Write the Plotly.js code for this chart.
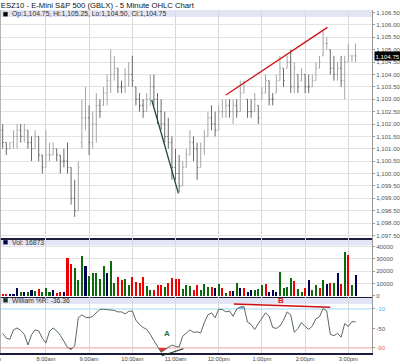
<!DOCTYPE html>
<html><head><meta charset="utf-8">
<script src="https://cdn.plot.ly/plotly-3.0.1.min.js"></script>
<style>html,body{margin:0;padding:0;background:#fff;overflow:hidden}#chart{width:400px;height:364px}</style>
</head><body><div id="chart"></div>
<script>
const chartTitle = "ESZ10 - E-Mini S&P 500 (GBLX) - 5 Minute OHLC Chart";
const times = [
"7:00","7:05","7:10","7:15","7:20","7:25","7:30","7:35","7:40","7:45","7:50","7:55",
"8:00","8:05","8:10","8:15","8:20","8:25","8:30","8:35","8:40","8:45","8:50","8:55",
"9:00","9:05","9:10","9:15","9:20","9:25","9:30","9:35","9:40","9:45","9:50","9:55",
"10:00","10:05","10:10","10:15","10:20","10:25","10:30","10:35","10:40","10:45","10:50","10:55",
"11:00","11:05","11:10","11:15","11:20","11:25","11:30","11:35","11:40","11:45","11:50","11:55",
"12:00","12:05","12:10","12:15","12:20","12:25","12:30","12:35","12:40","12:45","12:50","12:55",
"13:00","13:05","13:10","13:15","13:20","13:25","13:30","13:35","13:40","13:45","13:50","13:55",
"14:00","14:05","14:10","14:15","14:20","14:25","14:30","14:35","14:40","14:45","14:50","14:55",
"15:00","15:05","15:10"];
const opens = [1101.75,1101.25,1101.0,1101.25,1101.5,1101.75,1101.5,1101.75,1101.25,1101.0,1101.5,1100.75,
1100.25,1100.75,1100.75,1101.0,1100.75,1100.5,1100.5,1100.25,1099.0,1098.5,1101.25,1102.25,
1102.25,1101.25,1102.0,1102.75,1102.75,1103.25,1103.75,1104.0,1104.25,1103.5,1103.5,1104.0,
1104.0,1103.5,1103.0,1102.75,1102.5,1103.0,1103.5,1103.0,1102.5,1102.0,1101.5,1101.25,
1100.25,1100.0,1099.5,1100.25,1100.75,1101.25,1101.0,1100.25,1101.0,1101.5,1102.25,1102.0,
1101.75,1102.5,1102.5,1102.75,1102.5,1102.75,1102.5,1103.25,1103.0,1102.5,1102.5,1102.75,
1103.0,1103.25,1103.75,1103.0,1103.25,1103.75,1104.25,1104.25,1104.5,1103.5,1104.0,1103.75,
1104.0,1103.5,1103.5,1103.75,1104.25,1104.75,1105.25,1105.0,1104.25,1104.0,1104.25,1103.75,
1104.5,1104.75,1104.75];
const highs = [1102.0,1101.25,1101.25,1101.75,1102.0,1102.0,1102.0,1101.75,1101.5,1101.75,1101.5,1100.75,
1101.75,1101.25,1101.25,1101.0,1100.75,1101.0,1101.25,1100.25,1099.75,1100.5,1103.0,1103.5,
1102.75,1102.5,1103.25,1103.0,1103.5,1104.0,1105.0,1104.75,1104.25,1103.75,1104.25,1104.5,
1104.75,1103.5,1103.25,1103.0,1103.25,1104.0,1104.0,1103.25,1103.0,1102.5,1102.25,1101.5,
1101.0,1100.75,1100.5,1101.0,1101.75,1101.5,1101.25,1101.25,1101.75,1102.5,1102.75,1102.5,
1102.75,1103.0,1103.0,1103.0,1103.0,1103.0,1103.75,1103.75,1103.0,1103.0,1103.25,1102.75,
1103.5,1104.0,1103.75,1103.25,1104.0,1104.75,1104.25,1104.75,1105.0,1104.5,1104.0,1104.25,
1104.0,1104.0,1104.0,1104.5,1104.75,1105.75,1105.5,1105.0,1104.75,1104.5,1104.75,1104.75,
1105.25,1104.75,1105.25];
const lows = [1101.0,1100.75,1101.0,1101.0,1101.0,1101.25,1101.25,1101.0,1100.5,1101.0,1100.5,1100.0,
1100.25,1100.5,1100.75,1100.5,1100.0,1100.25,1100.0,1098.75,1098.25,1098.5,1101.0,1101.75,
1100.75,1101.0,1101.25,1102.25,1102.75,1102.75,1103.25,1103.75,1103.25,1103.25,1103.25,1103.5,
1103.5,1102.75,1102.5,1102.25,1102.5,1102.75,1102.75,1102.0,1101.75,1101.25,1101.0,1099.75,
1099.75,1099.25,1099.5,1100.25,1100.75,1100.5,1099.75,1100.25,1100.75,1101.5,1101.75,1101.5,
1101.75,1102.25,1102.25,1102.25,1102.0,1102.25,1102.5,1103.25,1102.25,1102.25,1102.5,1102.0,
1103.0,1103.25,1102.75,1102.75,1103.25,1103.75,1103.5,1104.25,1103.25,1103.25,1103.25,1103.75,
1103.25,1103.25,1103.5,1103.75,1104.25,1104.75,1105.0,1104.0,1103.75,1103.75,1103.5,1103.0,
1104.5,1104.5,1104.5];
const closes = [1101.25,1101.0,1101.25,1101.5,1101.75,1101.5,1101.75,1101.25,1101.0,1101.5,1100.75,1100.25,
1100.75,1100.75,1101.0,1100.75,1100.5,1100.5,1100.25,1099.0,1098.5,1100.25,1102.25,1102.25,
1101.25,1102.0,1102.75,1102.5,1103.25,1103.75,1104.0,1104.25,1103.5,1103.5,1104.0,1104.0,
1103.75,1103.0,1102.75,1102.5,1103.0,1103.5,1103.0,1102.5,1102.0,1101.5,1101.25,1100.25,
1100.0,1099.5,1100.25,1100.75,1101.25,1101.0,1100.25,1101.0,1101.5,1102.25,1102.0,1101.75,
1102.5,1102.5,1102.75,1102.5,1102.75,1102.5,1103.25,1103.5,1102.5,1102.5,1103.0,1102.25,
1103.25,1103.75,1103.0,1103.0,1103.75,1104.25,1103.75,1104.5,1103.5,1104.25,1103.5,1104.0,
1103.5,1103.5,1103.75,1104.25,1104.5,1105.25,1105.25,1104.25,1104.0,1104.25,1103.75,1104.5,
1104.75,1104.75,1104.75];
const volumes = [1500,1200,1500,1000,6000,3300,2700,3300,4900,4100,5400,3300,
6000,2700,4900,2500,2700,3300,31000,25600,22300,12800,32700,24500,
16300,18300,18300,14000,24500,18300,28300,10000,15200,12800,13600,8700,
15200,11400,10000,15500,8200,4900,4900,8700,8700,7300,10000,14700,
14000,13300,5700,8700,8200,4900,8700,4650,9280,6830,7380,6560,
9280,6560,2480,3840,3840,10100,6560,6560,3290,4380,4650,5470,
8730,9280,2750,4650,3000,19600,6560,7380,14180,12000,5470,2750,
6560,12820,4650,8730,6000,12820,9280,10640,10640,18800,9280,35900,
33200,8730,16873];
const volDir = ["d","d","f","f","f","u","f","u","f","u","d","u",
"u","u","f","d","d","f","d","d","u","u","u","f",
"u","u","u","u","u","f","u","u","d","d","u","u",
"d","d","d","d","u","u","d","d","d","u","d","d",
"d","d","u","u","u","d","d","u","u","u","d","f",
"u","d","u","d","f","u","f","d","f","f","u","u",
"u","d","f","f","f","u","u","u","u","d","u","u",
"d","f","u","u","d","u","f","d","u","f","d","u",
"d","u","f"];
const willR = [-60,-70,-72,-53,-49,-54,-62,-84,-63,-53,-55,-70,
-80,-56,-49,-55,-64,-76,-89,-93,-86,-28,-22,-27,
-28,-25,-17,-11,-10.5,-11,-11.5,-13,-16,-16,-20,-15,
-14,-33,-42,-48,-52,-62,-75,-86,-99,-94,-89,-84,
-87,-88,-66,-60,-53,-58,-57,-59,-38,-22,-18,-28,
-10.5,-11,-16,-14,-25,-10,-6,-5,-37,-42,-52,-40,
-28,-18,-25,-48,-50,-45,-33,-16,-22,-58,-50,-38,
-46,-52,-45,-30,-26,-9,-14,-62,-65,-60,-68,-40,
-46,-36,-36.36];
const hourTimes = ["8:00","9:00","10:00","11:00","12:00","13:00","14:00","15:00"];
const hourLabels = ["8:00am","9:00am","10:00am","11:00am","12:00pm","1:00pm","2:00pm","3:00pm"];
const edgeLabel = {time:"6:45", text:"6:45am"};
const priceTicks = [1097.5,1098,1098.5,1099,1099.5,1100,1100.5,1101,1101.5,1102,1102.5,1103,1103.5,1104,1104.5,1105,1105.5,1106,1106.5];
const volTicks = [0,10000,20000,30000,40000];
const willTicks = [-10,-50,-90];
const willLevels = {upper:-10, lower:-90};
const trendUp = {t:["12:10","14:31"], p:[1103.17,1105.9]};
const trendDown = {t:["10:27","11:04"], p:[1102.97,1099.2]};
const willLineA = {t:["10:41","11:11"], w:[-106,-91.6]};
const willLineB = {t:["12:21","14:35"], w:[0.2,-6.6]};
const labelA = {t:"10:48", w:-60, text:"A"};
const labelB = {t:"13:27", w:7.4, text:"B"};

function toMin(s){const a=s.split(':').map(Number);return a[0]*60+a[1];}
function fmt(v){return v.toLocaleString('en-US',{minimumFractionDigits:2,maximumFractionDigits:2});}
const tx = times.map(toMin);
const N = times.length;
const XR = [416.25, 932.9];
const PW = 372, PT = 10, PB = 353;
const px = v => v / PW;
const py = v => (PB - v) / (PB - PT);
const D3 = [0, py(296.5)], D2 = [py(296.5), py(238)], D1 = [py(238), 1];
const YR1 = [1097.4, 1106.6], YR2 = [-650, 47100], YR3 = [-100.4, 15.6];

const dirColor = {u:'#0b6b0b', d:'#ee0000', f:'#000055'};

function regions(xs, ys, thr, inside){
  const polys=[]; let cur=null;
  for(let i=0;i<xs.length;i++){
    const ins = inside(ys[i]);
    if(ins){
      if(!cur){
        cur={x:[],y:[]};
        if(i>0){const t=(thr-ys[i-1])/(ys[i]-ys[i-1]);cur.x.push(xs[i-1]+t*(xs[i]-xs[i-1]));}
        else cur.x.push(xs[i]);
        cur.y.push(thr);
      }
      cur.x.push(xs[i]);cur.y.push(ys[i]);
    } else if(cur){
      const t=(thr-ys[i-1])/(ys[i]-ys[i-1]);
      cur.x.push(xs[i-1]+t*(xs[i]-xs[i-1]));cur.y.push(thr);
      polys.push(cur);cur=null;
    }
  }
  if(cur){cur.x.push(xs[xs.length-1]);cur.y.push(thr);polys.push(cur);}
  return polys;
}

const traces = [];
traces.push({type:'ohlc', x:tx, open:opens, high:highs, low:lows, close:closes,
  xaxis:'x', yaxis:'y', tickwidth:0.32, hoverinfo:'skip',
  increasing:{line:{color:'#a6a6a6', width:1}}, decreasing:{line:{color:'#6a6a6a', width:1}}});
traces.push({type:'bar', x:tx, y:volumes, width:2.8, xaxis:'x2', yaxis:'y2', hoverinfo:'skip',
  marker:{color:volDir.map(d=>dirColor[d]), line:{width:0}}});
regions(tx, willR, willLevels.lower, v=>v<willLevels.lower).forEach(p=>traces.push({type:'scatter',mode:'lines',x:p.x,y:p.y,fill:'toself',fillcolor:'#f03030',line:{width:0,color:'rgba(0,0,0,0)'},xaxis:'x3',yaxis:'y3',hoverinfo:'skip'}));
regions(tx, willR, willLevels.upper, v=>v>willLevels.upper).forEach(p=>traces.push({type:'scatter',mode:'lines',x:p.x,y:p.y,fill:'toself',fillcolor:'#7cc4ec',line:{width:0,color:'rgba(0,0,0,0)'},xaxis:'x3',yaxis:'y3',hoverinfo:'skip'}));
traces.push({type:'scatter', mode:'lines', x:tx, y:willR, xaxis:'x3', yaxis:'y3', hoverinfo:'skip',
  line:{color:'#5a6a5a', width:1}});

const hourMin = hourTimes.map(toMin);
const xBase = {range:XR, tickvals:hourMin, showgrid:true, gridcolor:'#d8d8d8', gridwidth:1,
  showline:true, linecolor:'#1c1c3c', linewidth:1.5, zeroline:false, fixedrange:true, ticks:'',
  showticklabels:false, rangeslider:{visible:false}};
const yBase = {side:'right', showline:true, linecolor:'#999', linewidth:1, ticks:'outside', ticklen:2,
  tickcolor:'#999', zeroline:false, fixedrange:true, tickfont:{size:6.1, color:'#555'}, showgrid:true, gridcolor:'#e3e3e3'};

const last = N-1;
const bandFill = '#e4e4f7';
const shapes = [
  {type:'rect', xref:'paper', yref:'paper', x0:0, x1:1, y0:py(17), y1:py(10), fillcolor:bandFill, line:{width:0}, layer:'below'},
  {type:'rect', xref:'paper', yref:'paper', x0:0, x1:1, y0:py(245.5), y1:py(238.7), fillcolor:bandFill, line:{width:0}, layer:'below'},
  {type:'rect', xref:'paper', yref:'paper', x0:0, x1:1, y0:py(304), y1:py(297), fillcolor:bandFill, line:{width:0}, layer:'below'},
  {type:'rect', xref:'paper', yref:'paper', x0:px(3.5), x1:px(7.5), y0:py(16.2), y1:py(12.2), fillcolor:'#000', line:{width:0.5,color:'#333'}},
  {type:'rect', xref:'paper', yref:'paper', x0:px(3.5), x1:px(7.5), y0:py(244.2), y1:py(240.2), fillcolor:'#000055', line:{width:0.5,color:'#333'}},
  {type:'rect', xref:'paper', yref:'paper', x0:px(3.5), x1:px(7.5), y0:py(302.2), y1:py(298.2), fillcolor:'#0a3a0a', line:{width:0.5,color:'#333'}},
  {type:'line', xref:'paper', yref:'paper', x0:0.001, x1:0.001, y0:0, y1:1, line:{color:'#aaa', width:1}},
  {type:'line', xref:'paper', yref:'y3', x0:0, x1:1, y0:willLevels.upper, y1:willLevels.upper, line:{color:'#a6d6f2', width:1}, layer:'below'},
  {type:'line', xref:'paper', yref:'y3', x0:0, x1:1, y0:willLevels.lower, y1:willLevels.lower, line:{color:'#f0a0a0', width:1}, layer:'below'},
  {type:'line', xref:'x', yref:'y', x0:toMin(trendUp.t[0]), x1:toMin(trendUp.t[1]), y0:trendUp.p[0], y1:trendUp.p[1], line:{color:'#cc1111', width:1.3}},
  {type:'line', xref:'x', yref:'y', x0:toMin(trendDown.t[0]), x1:toMin(trendDown.t[1]), y0:trendDown.p[0], y1:trendDown.p[1], line:{color:'#1f4a33', width:1.3}},
  {type:'line', xref:'x3', yref:'y3', x0:toMin(willLineB.t[0]), x1:toMin(willLineB.t[1]), y0:willLineB.w[0], y1:willLineB.w[1], line:{color:'#cc1111', width:1.5}}
];
const xp = m => (m - XR[0])/(XR[1]-XR[0]);
const yp3 = w => D3[0] + (w - YR3[0])/(YR3[1]-YR3[0])*(D3[1]-D3[0]);
shapes.push({type:'line', xref:'paper', yref:'paper', x0:xp(toMin(willLineA.t[0])), x1:xp(toMin(willLineA.t[1])),
  y0:yp3(willLineA.w[0]), y1:yp3(willLineA.w[1]), line:{color:'#223322', width:1.2}});

const bandFont = {size:6.8, color:'#333'};
const annotations = [
  {xref:'paper', yref:'paper', x:px(10), y:py(14.2), xanchor:'left', yanchor:'middle', showarrow:false, font:bandFont,
   text:`Op:${fmt(opens[last])}, Hi:${fmt(highs[last])}, Lo:${fmt(lows[last])}, Cl:${fmt(closes[last])}`},
  {xref:'paper', yref:'paper', x:px(10), y:py(242.3), xanchor:'left', yanchor:'middle', showarrow:false, font:bandFont,
   text:`Vol: ${volumes[last]}`},
  {xref:'paper', yref:'paper', x:px(10), y:py(300.2), xanchor:'left', yanchor:'middle', showarrow:false, font:bandFont,
   text:`William %R: ${willR[last].toFixed(2)}`},
  {xref:'paper', yref:'y', x:1, xshift:1.5, y:closes[last], xanchor:'left', yanchor:'middle', showarrow:false,
   text:fmt(closes[last]), bgcolor:'#000', borderpad:0.5, font:{size:6.1, color:'#fff'}},
  {xref:'paper', yref:'paper', x:xp(toMin(edgeLabel.time)), y:py(359), xanchor:'center', yanchor:'middle', showarrow:false,
   text:edgeLabel.text, font:{size:5.7, color:'#444'}},
  {xref:'x3', yref:'y3', x:toMin(labelA.t), y:labelA.w, showarrow:false, text:'<b>'+labelA.text+'</b>', font:{size:8, color:'#2f6f4f'}},
  {xref:'x3', yref:'y3', x:toMin(labelB.t), y:labelB.w, showarrow:false, text:'<b>'+labelB.text+'</b>', font:{size:8, color:'#dd1111'}}
];

const layout = {
  width:400, height:364, margin:{l:0, r:28, t:10, b:11, pad:0},
  paper_bgcolor:'#fff', plot_bgcolor:'#fff', showlegend:false, bargap:0,
  font:{family:'Liberation Sans, Arial, sans-serif', size:6.5, color:'#555'},
  title:{text:chartTitle, x:0.002, xref:'container', xanchor:'left', y:1-5/364, yref:'container', yanchor:'middle',
    font:{size:7.7, color:'#111', family:'Liberation Sans, Arial, sans-serif'}, pad:{t:0,b:0,l:0,r:0}},
  xaxis: Object.assign({}, xBase, {anchor:'y'}),
  xaxis2: Object.assign({}, xBase, {anchor:'y2'}),
  xaxis3: Object.assign({}, xBase, {anchor:'y3', showticklabels:true, ticktext:hourLabels, tickfont:{size:5.7, color:'#444'}}),
  yaxis: Object.assign({}, yBase, {domain:D1, anchor:'x', range:YR1, tickvals:priceTicks, tickformat:',.2f'}),
  yaxis2: Object.assign({}, yBase, {domain:D2, anchor:'x2', range:YR2, tickvals:volTicks, ticktext:volTicks.map(String)}),
  yaxis3: Object.assign({}, yBase, {domain:D3, anchor:'x3', range:YR3, tickvals:willTicks, showgrid:false,
    ticktext:['<span style="color:#5ab0e0">-10</span>','-50','<span style="color:#e06868">-90</span>']}),
  shapes:shapes, annotations:annotations
};
Plotly.newPlot('chart', traces, layout, {staticPlot:true, displayModeBar:false});
</script></body></html>
